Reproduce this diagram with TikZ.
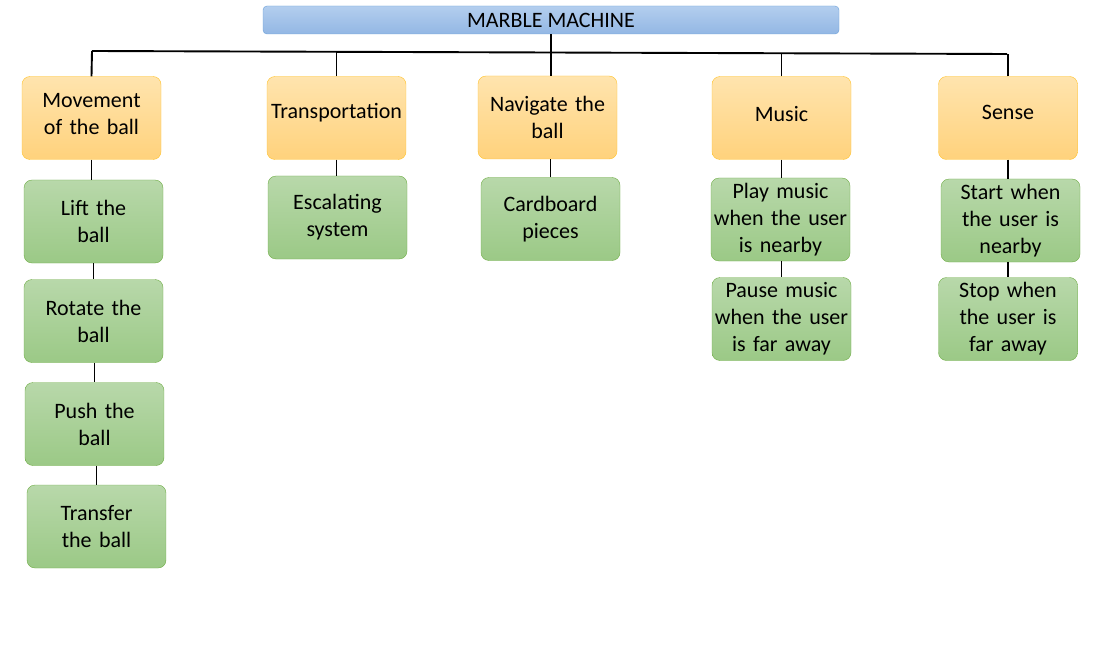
\documentclass[tikz,border=0pt]{standalone}
\usepackage{fontspec}
\setmainfont{Carlito}

\definecolor{titletop}{HTML}{B3CEEE}
\definecolor{titlebot}{HTML}{93B7E4}
\definecolor{titleline}{HTML}{6A9FD8}
\definecolor{topictop}{HTML}{FFE4AE}
\definecolor{topicbot}{HTML}{FFD27C}
\definecolor{topicline}{HTML}{FFC22A}
\definecolor{tasktop}{HTML}{B8D8AA}
\definecolor{taskbot}{HTML}{9BC986}
\definecolor{taskline}{HTML}{70AD47}

\tikzset{
  box/.style={rounded corners=8pt, minimum width=139pt, minimum height=83pt,
    text width=139pt, align=center, inner sep=0pt,
    font=\fontsize{22}{27}\selectfont},
  topic/.style={box, draw=topicline, top color=topictop, bottom color=topicbot},
  task/.style={box, draw=taskline, top color=tasktop, bottom color=taskbot},
  wire/.style={line width=1.9pt},
}

\begin{document}
\begin{tikzpicture}[x=1pt, y=-1pt]
  \useasboundingbox (0,0) rectangle (1105,663);

  % root
  \node[rounded corners=4pt, draw=titleline, top color=titletop, bottom color=titlebot,
    minimum width=576pt, minimum height=28pt, inner sep=0pt,
    font=\fontsize{22}{27}\selectfont] (root) at (551,20) {MARBLE MACHINE};

  % main branches
  \node[topic, text depth=36pt]   (move)  at (91.5,118)  {Movement\\of the ball};
  \node[topic, text depth=14pt]   (trans) at (336.5,118) {Transportation};
  \node[topic]                    (nav)   at (547.5,117.5) {Navigate the\\ball};
  \node[topic, text depth=8pt]    (music) at (781.5,118) {Music};
  \node[topic, text depth=12pt]   (sense) at (1008,118)  {Sense};

  % sub tasks
  \node[task] (lift)  at (93.5,221.5) {Lift the\\ball};
  \node[task] (rot)   at (93.5,321)   {Rotate the\\ball};
  \node[task] (push)  at (94.5,424)   {Push the\\ball};
  \node[task] (trf)   at (96.5,526.5) {Transfer\\the ball};
  \node[task] (esc)   at (337.5,217.5) {Escalating\\system};
  \node[task] (card)  at (550.5,219)  {Cardboard\\pieces};
  \node[task] (play)  at (780.5,219.5) {Play music\\when the user\\is nearby};
  \node[task] (pause) at (781.5,319)  {Pause music\\when the user\\is far away};
  \node[task] (start) at (1010.5,220.5) {Start when\\the user is\\nearby};
  \node[task] (stop)  at (1008,319)   {Stop when\\the user is\\far away};

  % bus
  \coordinate (busL) at (92,51);
  \coordinate (busR) at (1007,54);
  \coordinate (busM) at (551,52);
  \draw[wire] (busL) -- (busR);
  \draw[wire] (root.south) -- (busM);
  \draw[wire] (move.north) -- (busL);
  \draw[wire] (trans.north) -- ++(0,-24);
  \draw[wire] (nav.north -| busM) -- (busM);
  \draw[wire] (music.north) -- ++(0,-23);
  \draw[wire] (sense.north) -- ++(0,-22);

  % chains
  \draw[wire] (move.south) -- (move.south |- lift.north);
  \draw[wire] (lift.south) -- (lift.south |- rot.north);
  \draw[wire] (rot.south -| push) -- (push.north);
  \draw[wire] (push.south -| trf) -- (trf.north);
  \draw[wire] (trans.south) -- (trans.south |- esc.north);
  \draw[wire] (card.north) -- (card.north |- nav.south);
  \draw[wire] (music.south) -- (music.south |- play.north);
  \draw[wire] (play.south -| pause) -- (pause.north);
  \draw[wire] (sense.south) -- (sense.south |- start.north);
  \draw[wire] (start.south -| stop) -- (stop.north);
\end{tikzpicture}
\end{document}
